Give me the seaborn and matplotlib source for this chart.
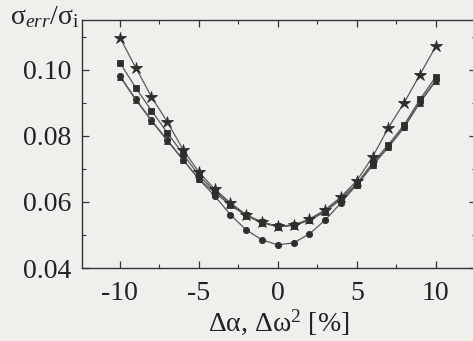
import numpy as np
import pandas as pd
import matplotlib
matplotlib.use("Agg")
import matplotlib.pyplot as plt
import seaborn as sns
from matplotlib.ticker import MultipleLocator

x_vals = list(range(-10, 11))
stars = [0.1097, 0.1006, 0.0918, 0.0842, 0.0758, 0.0690, 0.0639, 0.0597, 0.0561, 0.0539, 0.0526,
         0.0530, 0.0548, 0.0576, 0.0615, 0.0664, 0.0736, 0.0824, 0.0900, 0.0985, 0.1070]
squares = [0.1021, 0.0945, 0.0876, 0.0809, 0.0745, 0.0680, 0.0633, 0.0594, 0.0560, 0.0538, 0.0526,
           0.0530, 0.0546, 0.0573, 0.0612, 0.0655, 0.0718, 0.0773, 0.0833, 0.0910, 0.0978]
triangles = [0.0979, 0.0909, 0.0845, 0.0785, 0.0727, 0.0670, 0.0628, 0.0590, 0.0558, 0.0536, 0.0525,
             0.0528, 0.0544, 0.0570, 0.0608, 0.0650, 0.0710, 0.0765, 0.0825, 0.0900, 0.0965]
circles = [0.0981, 0.0911, 0.0847, 0.0787, 0.0728, 0.0668, 0.0618, 0.0561, 0.0515, 0.0485, 0.0470,
           0.0476, 0.0503, 0.0545, 0.0597, 0.0652, 0.0712, 0.0767, 0.0827, 0.0903, 0.0968]

x_ticks = [-10, -5, 0, 5, 10]
y_ticks = [0.04, 0.06, 0.08, 0.10]
y_ticklabels = ["0.04", "0.06", "0.08", "0.10"]

sns.set_style("ticks")
plt.rcParams['font.family'] = ['Liberation Serif', 'DejaVu Serif']
plt.rcParams['mathtext.fontset'] = 'custom'
plt.rcParams['mathtext.rm'] = 'Liberation Serif'
plt.rcParams['mathtext.it'] = 'Liberation Serif:italic'

bg = '#efefeb'
fig = plt.figure(figsize=(4.73, 3.41), dpi=100, facecolor=bg)
ax = fig.add_axes([82/473, 73/341, 394/473, 248/341])
ax.set_facecolor(bg)

line_c = '#5a5a5a'
mark_c = '#2e2e2e'
series = [
    (circles, 'o', 4.5),
    (triangles, '^', 5),
    (squares, 's', 5),
    (stars, '*', 9),
]
for vals, m, ms in series:
    sns.lineplot(x=x_vals, y=vals, ax=ax, color=line_c, linewidth=0.9,
                 marker=m, markersize=ms, markerfacecolor=mark_c,
                 markeredgecolor=mark_c, markeredgewidth=0.6)

ax.set_xlim(-12.4, 12.55)
ax.set_ylim(0.04, 0.115)
ax.set_xticks(x_ticks)
ax.set_xticklabels([str(t) for t in x_ticks])
ax.set_yticks(y_ticks)
ax.set_yticklabels(y_ticklabels)
ax.xaxis.set_minor_locator(MultipleLocator(2.5))
ax.yaxis.set_minor_locator(MultipleLocator(0.01))
ax.tick_params(axis='both', which='both', direction='in', top=True, right=True,
               labelsize=20, color='#333333', labelcolor='#222222')
ax.tick_params(axis='x', pad=9)
ax.tick_params(axis='y', pad=8)
ax.tick_params(which='major', length=5, width=0.9)
ax.tick_params(which='minor', length=3, width=0.8)
for s in ax.spines.values():
    s.set_color('#333333')
    s.set_linewidth(1.0)

ax.set_xlabel('Δα, Δω$^2$ [%]', fontsize=20, color='#222222', labelpad=1)
ax.set_ylabel('')
fig.text(10/473, 1 - 24/341, r'σ$_{\mathit{err}}$/σ$_{\mathrm{i}}$', fontsize=20, color='#222222',
         ha='left', va='baseline')

fig.savefig('out.png', dpi=100, facecolor=bg)
